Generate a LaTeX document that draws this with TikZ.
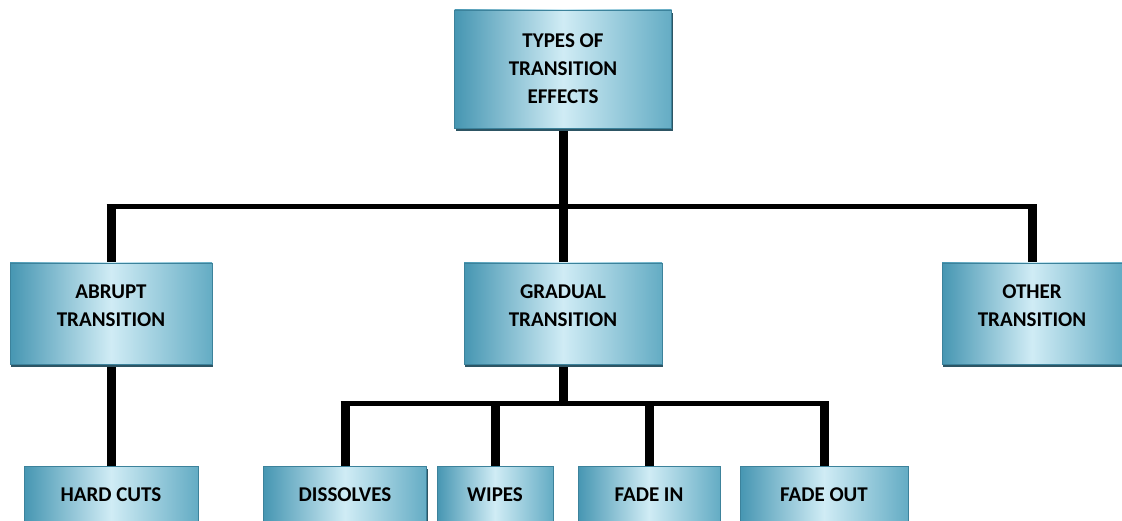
\documentclass[tikz,border=0pt]{standalone}
\usepackage{fontspec}
\setmainfont{Carlito}
\usepackage{xcolor}
\definecolor{boxdark}{RGB}{70,150,178}
\definecolor{boxmid}{RGB}{100,172,196}
\definecolor{boxlight}{RGB}{208,236,245}
\definecolor{boxedge}{RGB}{60,130,155}
\definecolor{boxshadow}{RGB}{45,85,100}
\usetikzlibrary{positioning,shadows,backgrounds}
\tikzset{
  tbox/.style={draw=boxedge,line width=0.6pt,left color=boxdark,right color=boxmid,middle color=boxlight,
    drop shadow={shadow xshift=1pt,shadow yshift=-3pt,fill=boxshadow,opacity=1},
    font=\fontsize{21}{28}\selectfont\bfseries,align=center,text=black,inner sep=0pt},
  midbox/.style={tbox,minimum height=101pt,text depth=16pt},
  lowbox/.style={tbox,minimum height=58pt},
  stem/.style={black,line width=9pt},
  bus/.style={black,line width=5pt,shorten <=-4.5pt,shorten >=-4.5pt},
}

\begin{document}
\begin{tikzpicture}[x=1pt,y=-1pt]
  \useasboundingbox (0,0) rectangle (1122,521);
  \clip (0,0) rectangle (1122,521);
  % top, middle row, bottom row
  \node[tbox,minimum width=217pt,minimum height=118pt] (types) at (563,69) {TYPES OF\\TRANSITION\\EFFECTS};
  \node[midbox,minimum width=202pt] (abrupt)  at (111,313.5)  {ABRUPT\\TRANSITION};
  \node[midbox,minimum width=198pt] (gradual) at (563,313.5)  {GRADUAL\\TRANSITION};
  \node[midbox,minimum width=180pt] (other)   at (1032,313.5) {OTHER\\TRANSITION};
  \node[lowbox,minimum width=174pt] (hardcuts)  at (111,495) {HARD CUTS};
  \node[lowbox,minimum width=163pt] (dissolves) at (345,495) {DISSOLVES};
  \node[lowbox,minimum width=116pt] (wipes)     at (495,495) {WIPES};
  \node[lowbox,minimum width=142pt] (fadein)    at (649,495) {FADE IN};
  \node[lowbox,minimum width=168pt] (fadeout)   at (824,495) {FADE OUT};
  \coordinate (busA) at (563,207);
  \coordinate (busB) at (563,403.5);
  \begin{scope}[on background layer]
    \draw[bus] (abrupt.north |- busA) -- (other.north |- busA);
    \draw[stem] (types.south) -- (busA);
    \foreach \n in {abrupt,gradual,other}
      \draw[stem,shorten >=-2.5pt] (\n.north) -- (\n.north |- busA);
    \draw[stem] (abrupt.south) -- (hardcuts.north);
    \draw[bus] (dissolves.north |- busB) -- (fadeout.north |- busB);
    \draw[stem] (gradual.south) -- (busB);
    \foreach \n in {dissolves,wipes,fadein,fadeout}
      \draw[stem,shorten >=-2.5pt] (\n.north) -- (\n.north |- busB);
  \end{scope}
\end{tikzpicture}
\end{document}
